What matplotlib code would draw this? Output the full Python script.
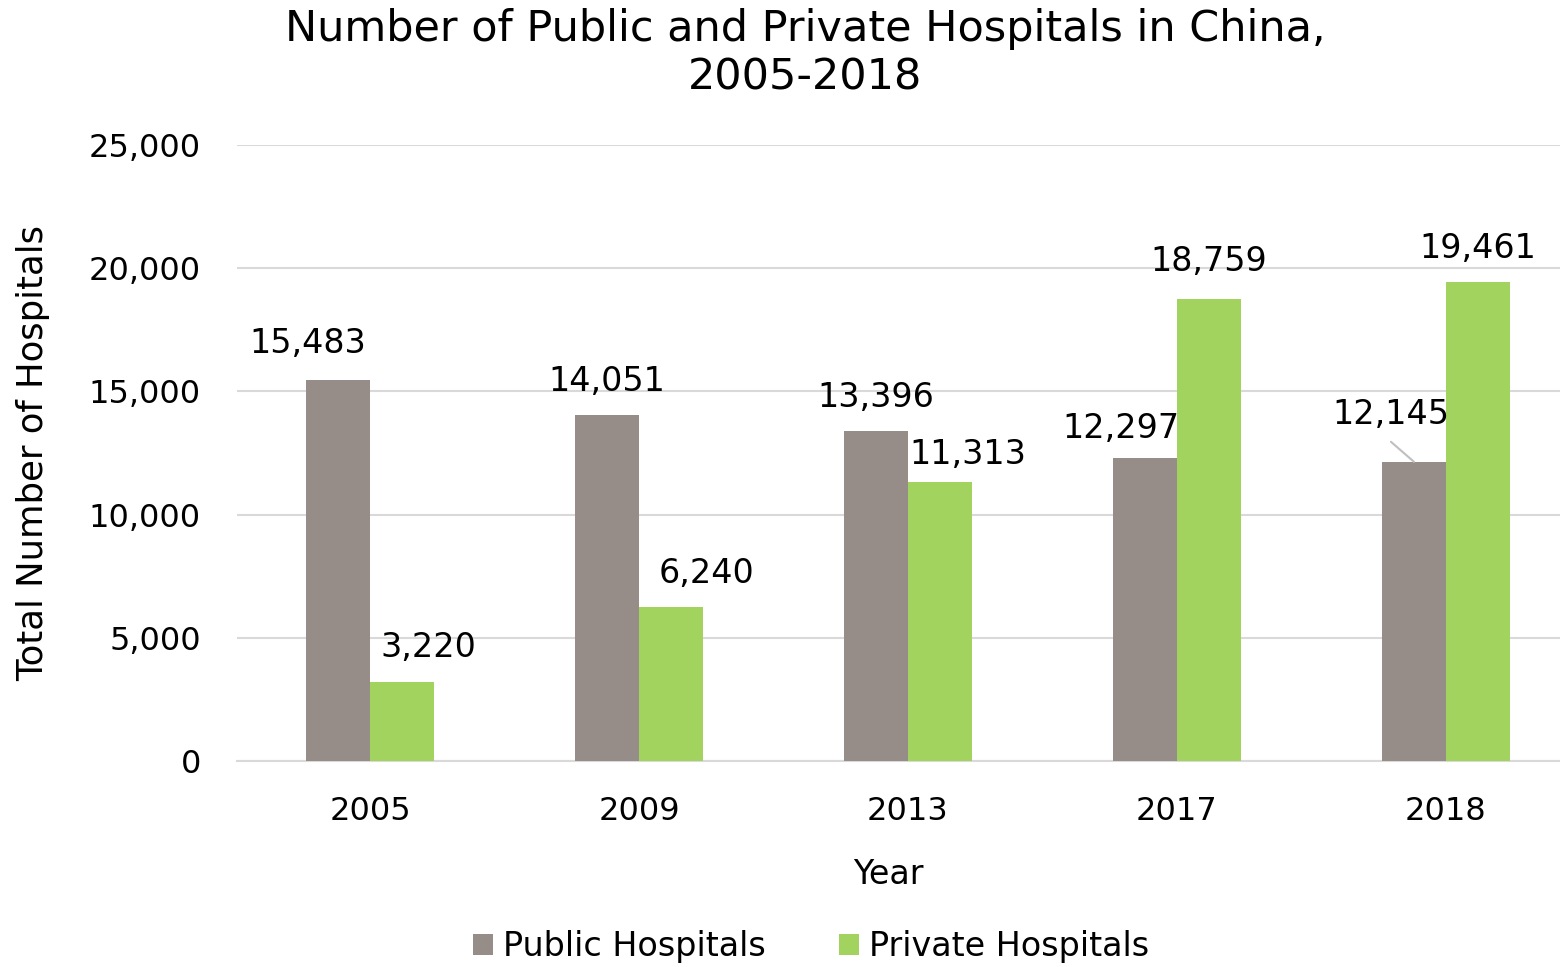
import matplotlib
matplotlib.use("Agg")
import matplotlib.pyplot as plt
import numpy as np

years = ["2005", "2009", "2013", "2017", "2018"]
public = [15483, 14051, 13396, 12297, 12145]
private = [3220, 6240, 11313, 18759, 19461]
yticks = [0, 5000, 10000, 15000, 20000, 25000]

plt.rcParams['font.family'] = ['DejaVu Sans']
GREY = "#968C88"
GREEN = "#A2D35E"

fig = plt.figure(figsize=(15.6, 9.67), dpi=100)
ax = fig.add_axes([0.152, 0.213, 0.848, 0.637])

x = np.arange(len(years))
w = 0.238
b1 = ax.bar(x - w/2, public, w, color=GREY, label="Public Hospitals", zorder=3)
b2 = ax.bar(x + w/2, private, w, color=GREEN, label="Private Hospitals", zorder=3)

ax.set_ylim(0, 25000)
ax.set_xlim(-0.494, 4.424)
ax.set_yticks(yticks)
ax.set_yticklabels([f"{v:,}" for v in yticks])
ax.set_xticks(x)
ax.set_xticklabels(years)
ax.tick_params(axis='both', length=0, labelsize=23)
ax.tick_params(axis='y', pad=26)
ax.tick_params(axis='x', pad=25)
ax.grid(axis='y', color="#D9D9D9", linewidth=1.5, zorder=0)
for s in ["top", "right", "left"]:
    ax.spines[s].set_visible(False)
ax.spines["bottom"].set_color("#D9D9D9")
ax.spines["bottom"].set_linewidth(1.5)

# label offsets in pixels (dx, dy) for each bar
pub_off = [(-30, 36), (0, 33), (0, 33), (-24, 30), (-23, 47)]
priv_off = [(26, 34), (36, 34), (28, 28), (0, 37), (0, 33)]
for rect, v, (dx, dy) in zip(b1, public, pub_off):
    cx = rect.get_x() + rect.get_width()/2
    ax.annotate(f"{v:,}", (cx, v), xytext=(dx, dy), textcoords="offset pixels",
                ha="center", va="center", fontsize=24, zorder=5)
for rect, v, (dx, dy) in zip(b2, private, priv_off):
    cx = rect.get_x() + rect.get_width()/2
    ax.annotate(f"{v:,}", (cx, v), xytext=(dx, dy), textcoords="offset pixels",
                ha="center", va="center", fontsize=24, zorder=5)

# leader line for 2018 public label
r = b1[4]
cx = r.get_x() + r.get_width()/2
ax.annotate("", xy=(cx, public[4]), xytext=(-23, 20), textcoords="offset pixels",
            xycoords="data",
            arrowprops=dict(arrowstyle="-", color="#BFBFBF", lw=1.5, shrinkA=0, shrinkB=0))

ax.set_xlabel("Year", fontsize=24)
ax.xaxis.set_label_coords((888 - 237) / 1323, -(858 - 761) / 616)
ax.set_ylabel("Total Number of Hospitals", fontsize=25.5)
ax.yaxis.set_label_coords(-(237 - 50) / 1323, 0.5)

fig.suptitle("Number of Public and Private Hospitals in China,\n2005-2018",
             fontsize=31, x=0.516, y=0.992, va="top", linespacing=1.22)

leg = fig.legend(handles=[b1, b2], loc="center", bbox_to_anchor=(0.52, 0.021),
                 ncol=2, frameon=False, fontsize=24, handlelength=0.6, handleheight=0.6,
                 handletextpad=0.3, columnspacing=2.2)

fig.savefig("out.png", dpi=100)
